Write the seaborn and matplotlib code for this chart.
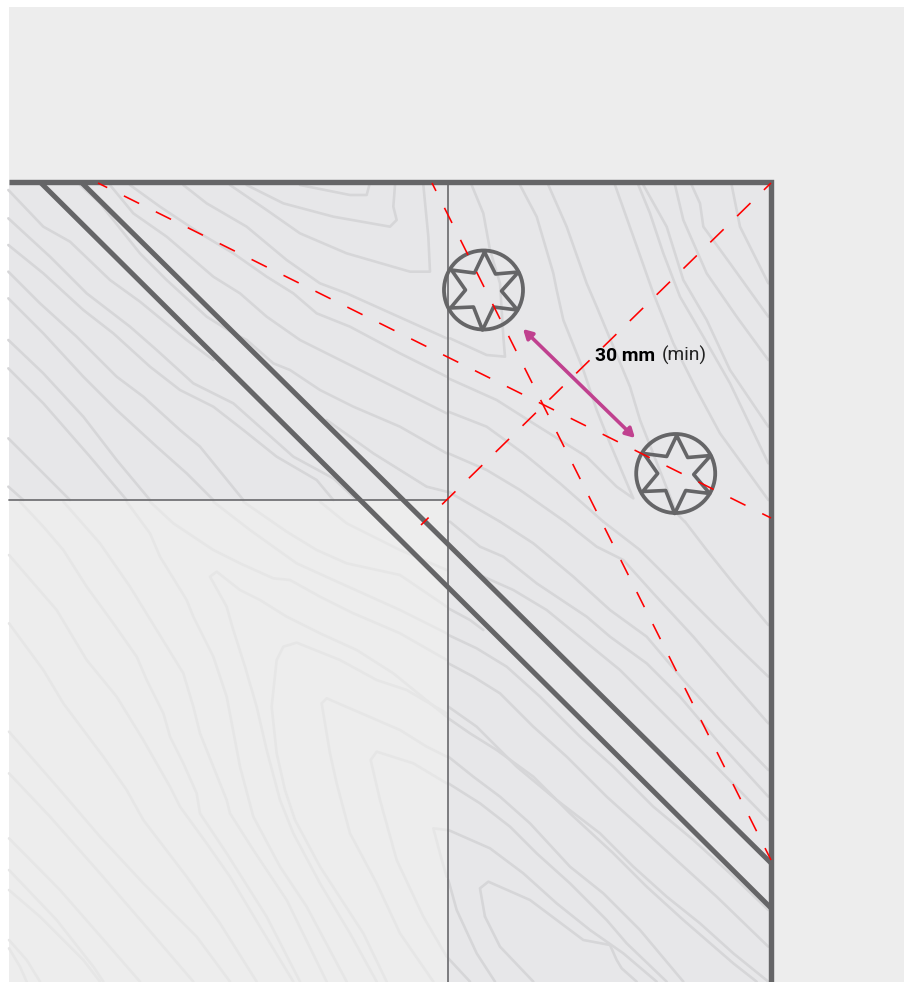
"""
Corner joint drawing: two screws, edge distance lines and wood grain
"""
import matplotlib
matplotlib.use("Agg")
import matplotlib.pyplot as plt
from matplotlib.patches import Circle, Rectangle
import pandas as pd
import seaborn as sns

# grain traces, each group with its own crop origin (x0, y0) at 3x
grain_topleft = [
    [(25,60),(130,170),(210,215),(330,330),(420,395),(560,510),(640,570)],
    [(25,145),(150,260),(260,370),(390,470),(470,540),(580,640),(700,700),(790,780),(880,860),(1000,925),(1070,990)],
    [(25,225),(130,310),(250,420),(340,490),(450,590),(540,660),(640,710),(730,780),(830,860),(950,930),(1000,990)],
    [(25,305),(120,400),(230,500),(350,620),(430,680),(540,780),(600,830),(730,990)],
    [(25,385),(130,490),(250,620),(350,720),(470,830),(560,910),(640,990)],
    [(25,510),(130,610),(250,740),(350,870),(450,990)],
    [(25,595),(130,700),(270,860),(380,990)],
    [(25,805),(100,880),(210,990)],
    [(25,950),(70,990)],
    [(240,45),(300,100),(420,250),(500,330),(620,440),(700,490),(740,510),(820,580),(870,600),(960,660),(1060,710),(1200,770),(1340,850)],
    [(330,45),(400,130),(500,200),(640,320),(720,370),(800,440),(900,510),(980,550),(1100,610),(1200,660),(1340,730)],
    [(390,45),(480,110),(600,190),(700,250),(800,320),(880,370),(950,430),(1050,470),(1200,550),(1340,620)],
    [(550,45),(620,100),(740,170),(860,270),(960,340),(1040,370),(1340,505)],
    [(690,45),(800,120),(900,190),(1040,250),(1230,305),(1290,305),(1285,200),(1270,45)],
    [(740,45),(850,100),(1000,140),(1170,170),(1190,150),(1180,110),(1185,45)],
    [(900,45),(1050,75),(1100,75),(1108,45)],
    [(980,750),(1050,800),(1120,850),(1200,900),(1280,950),(1340,965)],
]
grain_topright = [
    [(155,45),(190,130),(210,240),(240,340),(250,500),(255,560),(200,555),(90,505)],
    [(300,45),(350,140),(400,310),(410,360),(430,450),(490,600),(530,720),(570,820),(640,985),(590,950),(500,860),(420,810),(340,760),(230,690),(85,625)],
    [(385,45),(440,170),(500,340),(530,410),(580,530),(630,650),(660,750),(770,1030),(795,1056)],
    [(585,45),(640,200),(700,370),(760,520),(830,660),(900,790),(980,900),(1045,990)],
    [(655,45),(690,130),(730,250),(780,380),(850,500),(930,640),(1045,880)],
    [(670,45),(740,170),(790,330),(860,450),(930,600),(1045,770)],
    [(765,45),(790,150),(860,310),(950,440),(1045,570)],
    [(815,45),(840,100),(850,170),(930,280),(1045,440)],
    [(935,45),(960,170),(1045,340)],
    [(85,725),(200,770),(310,850),(420,940),(550,1055)],
    [(85,850),(200,900),(300,960),(435,1055)],
    [(85,965),(240,1055)],
]
grain_lowerright = [
    [(735,5),(800,90),(880,190),(985,315)],
    [(490,5),(600,90),(700,190),(830,320),(985,470)],
    [(375,5),(470,80),(550,120),(640,220),(760,350),(880,490),(985,610)],
    [(180,5),(280,70),(400,170),(510,270),(620,350),(730,480),(830,590),(985,750)],
    [(30,5),(120,80),(190,110),(290,190),(350,230),(440,290),(510,350),(620,430),(720,530),(830,660),(985,830)],
    [(130,170),(220,210),(320,270),(430,360),(540,450),(650,560),(780,690),(985,900)],
    [(25,265),(90,300),(130,330)],
    [(25,345),(110,385),(200,440),(300,530),(420,650),(520,740),(640,860),(760,960),(870,1060),(985,1170)],
    [(25,430),(100,470),(180,520),(280,620),(380,710),(500,830),(600,920),(720,1030),(830,1130),(985,1280)],
    [(25,560),(110,620),(230,740),(350,840),(480,940),(580,1040),(680,1130),(780,1210),(880,1300),(985,1385)],
    [(25,595),(90,640),(170,690),(280,770),(390,880),(520,1000),(620,1100),(730,1200),(880,1330),(950,1385)],
    [(25,710),(100,770),(180,830),(270,910),(390,1040),(490,1120),(600,1230),(730,1385)],
    [(25,790),(120,850),(210,920),(290,1000),(390,1090),(500,1200),(560,1270),(680,1385)],
    [(25,930),(150,985),(250,1060),(350,1150),(450,1230),(550,1300),(650,1385)],
    [(135,1190),(120,1105),(145,1085),(270,1140),(350,1200),(430,1260),(510,1275),(530,1320),(545,1345),(590,1385)],
    [(135,1190),(180,1280),(280,1385)],
    [(25,1080),(50,1170),(110,1300),(165,1385)],
    [(25,1315),(90,1385)],
]
grain_faint = [
    [(60,5),(130,80),(190,150),(260,260),(340,370),(410,470),(440,540),(490,640),(510,710),(550,790),(590,880),(600,940),(680,1060),(800,1250),(900,1445)],
    [(190,5),(300,130),(390,260),(470,390),(550,520),(580,620),(600,700),(680,900),(690,940),(760,1050),(860,1200),(980,1445)],
    [(380,5),(450,100),(480,170),(560,300),(580,350),(640,470),(680,590),(720,800),(760,950),(840,1100),(920,1220),(1040,1445)],
    [(450,5),(520,70),(640,150),(720,190),(820,235),(870,240),(960,290),(1060,340),(1200,400),(1340,480)],
    [(640,5),(750,90),(890,190),(1000,240),(1200,330),(1340,400)],
    [(730,5),(860,95),(950,150),(1040,190),(1200,225),(1340,320)],
    [(960,5),(1040,70),(1200,150),(1340,210)],
    [(1340,650),(1180,520),(1070,450),(960,400),(860,350),(780,300),(720,270),(650,215),(630,230),(680,320),(700,390),(735,500),(770,620),(800,750),(840,900),(880,1000),(960,1150),(1050,1300),(1130,1445)],
    [(1340,640),(1220,570),(1130,540),(1020,480),(890,428),(850,440),(830,480),(815,620),(830,760),(855,870),(885,960),(960,1100),(1090,1300),(1160,1445)],
    [(1340,770),(1280,740),(1200,690),(980,595),(965,610),(990,760),(1010,850),(1050,1000),(1130,1150),(1200,1300),(1300,1445)],
    [(1340,850),(1240,790),(1130,755),(1112,780),(1140,900),(1190,1080),(1270,1250),(1340,1370)],
    [(1340,990),(1300,985),(1320,1060),(1340,1130)],
    [(27,165),(170,330),(260,480),(350,590),(430,720),(510,860),(540,920),(620,1030),(690,1130),(780,1280),(880,1445)],
    [(27,370),(130,510),(190,610),(310,770),(380,870),(430,960),(560,1130),(660,1270),(770,1445)],
    [(27,695),(180,870),(300,1010),(430,1150),(590,1310),(690,1445)],
    [(27,820),(150,950),(300,1120),(430,1270),(580,1445)],
    [(27,1015),(180,1170),(320,1330),(420,1445)],
    [(27,1110),(170,1260),(280,1400),(310,1445)],
    [(27,1170),(120,1250),(250,1380),(300,1445)],
    [(27,1320),(80,1380),(120,1445)],
    [(27,1345),(60,1400),(80,1445)],
]

# construction lines in picture pixels
band_lines = [[(41,183),(771,908)], [(82,183),(771,863)]]
red_lines = [[(98,183),(771,518)], [(432,183),(771,860)], [(771,183),(421,525)]]
thin_lines = [[(448,183),(448,982)], [(9,500),(448,500)]]
border_line = [(9,182),(771,182),(771,982)]

screw_centres = [(483.5,290), (675.7,473.5)]
screw_radius = 39.5
star_shape = [(1,-38),(12,-16),(35,-18),(18,1),(34,20),(10,17),(-1,40),(-10,17),(-33,18),(-18,0),(-32,-20),(-9,-17),(1,-38)]
arrow_ends = [(523,329), (635,438)]

grey = "#656567"
PX = 0.72  # one pixel in points at dpi 100
red_dashes = [(6.7, 17.0, 18.65), (8.0, 16.9, 18.9), (8.8, 18.7, 18.8)]  # offset, on, off in pixels


def to_frame(traces, x0=0, y0=0, zoom=1):
    rows = []
    for i, trace in enumerate(traces):
        for x, y in trace:
            rows.append({"line": i, "x": x0 + x / zoom, "y": y0 + y / zoom})
    return pd.DataFrame(rows)


def draw(ax, frame, color, width, **kws):
    kws.setdefault("solid_joinstyle", "round")
    sns.lineplot(data=frame, x="x", y="y", units="line", estimator=None, sort=False,
                 color=color, linewidth=width * PX, ax=ax, legend=False, **kws)


sns.set_theme(style="white")
plt.rcParams["font.family"] = ["Roboto", "DejaVu Sans"]
plt.rcParams["lines.scale_dashes"] = False

fig = plt.figure(figsize=(9.09, 9.82), dpi=100, facecolor="white")
ax = fig.add_axes([0, 0, 1, 1])
ax.add_patch(Rectangle((9, 7), 895, 975, color="#EDEDED", lw=0, zorder=0))
ax.add_patch(Rectangle((9, 183), 439, 317, color="#E7E7E9", lw=0, zorder=0))
ax.add_patch(Rectangle((448, 183), 323, 799, color="#E7E7E9", lw=0, zorder=0))

draw(ax, to_frame(grain_faint, 0, 500, 3), "#E6E6E6", 2.6)
draw(ax, to_frame(grain_topleft, 0, 170, 3), "#D6D6D8", 2.6)
draw(ax, to_frame(grain_topright, 420, 170, 3), "#D6D6D8", 2.6)
draw(ax, to_frame(grain_lowerright, 440, 520, 3), "#D6D6D8", 2.6)

draw(ax, to_frame(thin_lines), "#727275", 1.8)
draw(ax, to_frame(band_lines), grey, 5.0, solid_capstyle="butt")
draw(ax, to_frame([border_line]), grey, 5.4, solid_joinstyle="miter", solid_capstyle="butt")

for cx, cy in screw_centres:
    ax.add_patch(Circle((cx, cy), screw_radius, fill=False, ec=grey, lw=3.8 * PX, zorder=3))
    star = [[(cx + dx, cy + dy) for dx, dy in star_shape]]
    draw(ax, to_frame(star), grey, 3.6, zorder=3)

for trace, (offset, on, off) in zip(red_lines, red_dashes):
    draw(ax, to_frame([trace]), "#FF0000", 1.6,
         linestyle=(offset * PX, (on * PX, off * PX)), dash_capstyle="butt", zorder=4)

ax.annotate("", xy=arrow_ends[0], xytext=arrow_ends[1],
            arrowprops=dict(arrowstyle="<|-|>,head_length=0.45,head_width=0.25", color="#C0418F",
                            lw=3.6 * PX, shrinkA=0, shrinkB=0), zorder=5)

ax.text(595, 361, "30 mm", fontsize=13.9, fontweight="bold", color="black", ha="left", va="baseline", zorder=6)
ax.text(662, 361, "(min)", fontsize=13.8, color="#222222", ha="left", va="baseline", zorder=6)

ax.set_xlim(0, 909)
ax.set_ylim(982, 0)
ax.axis("off")
fig.savefig("out.png", dpi=100)
